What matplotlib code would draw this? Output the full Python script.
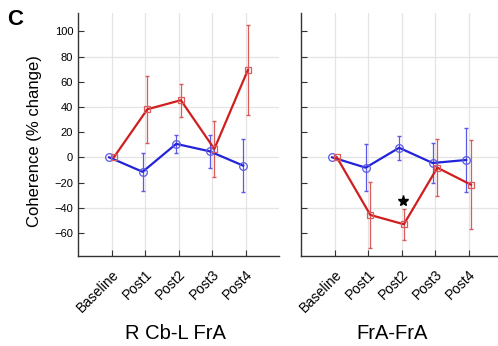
import numpy as np
import matplotlib
matplotlib.use("Agg")
import matplotlib.pyplot as plt
from matplotlib.transforms import ScaledTranslation

plt.rcParams['font.family'] = ['Liberation Sans', 'DejaVu Sans']

# data
sessions = ["Baseline", "Post1", "Post2", "Post3", "Post4"]
panels = ["R Cb-L FrA", "FrA-FrA"]

# R Cb-L FrA
blue_l = [0, -11.5, 10.7, 4.8, -6.6]
blue_l_lo = [0, -26.6, 3.2, -8.2, -27.2]
blue_l_hi = [0, 3.8, 18.1, 17.6, 14.2]
red_l = [0, 38.2, 45.4, 6.7, 69.4]
red_l_lo = [0, 11.5, 32.3, -16.0, 33.9]
red_l_hi = [0, 64.6, 58.4, 29.1, 105.4]

# FrA-FrA
blue_r = [0, -8.2, 7.6, -4.5, -2.1]
blue_r_lo = [0, -26.5, -1.9, -20.6, -27.3]
blue_r_hi = [0, 10.6, 16.7, 11.4, 23.0]
red_r = [0, -45.8, -53.2, -8.2, -21.7]
red_r_lo = [0, -71.7, -66.0, -30.7, -57.1]
red_r_hi = [0, -19.4, -40.8, 14.3, 13.5]

star_pos = (2.04, -34.6)

yticks = np.arange(-60, 101, 20)
ygrid = [-40, 0, 40, 80]

W, H = 498, 346
fig = plt.figure(figsize=(W / 100, H / 100), dpi=100)
ax1 = fig.add_axes([78 / W, 90 / H, 201 / W, 243 / H])
ax2 = fig.add_axes([301 / W, 90 / H, 201 / W, 243 / H])

blue = "#2323d8"
blue_e = "#5a5ae6"
red = "#d01e1e"
red_e = "#dc5a5a"
x = np.arange(len(sessions))


def draw(ax, bm, blo, bhi, rm, rlo, rhi):
    for g in ygrid:
        ax.axhline(g, color="#e4e4e4", lw=0.9, zorder=0)
    for xi in x:
        ax.axvline(xi, color="#e4e4e4", lw=0.9, zorder=0)
    bm, blo, bhi = map(np.array, (bm, blo, bhi))
    rm, rlo, rhi = map(np.array, (rm, rlo, rhi))
    ax.errorbar(x[1:] - 0.07, bm[1:], yerr=[bm[1:] - blo[1:], bhi[1:] - bm[1:]],
                fmt="none", ecolor=blue_e, elinewidth=0.9, capsize=1.5, zorder=2)
    ax.errorbar(x[1:] + 0.07, rm[1:], yerr=[rm[1:] - rlo[1:], rhi[1:] - rm[1:]],
                fmt="none", ecolor=red_e, elinewidth=0.9, capsize=1.5, zorder=2)
    ax.plot(x - 0.07, bm, color=blue, lw=1.6, marker="o", ms=5.5,
            mfc="none", mec=blue_e, mew=0.9, zorder=3)
    ax.plot(x + 0.07, rm, color=red, lw=1.6, marker="s", ms=5,
            mfc="none", mec=red_e, mew=0.9, zorder=3)
    ax.set_xlim(-1, 5)
    ax.set_ylim(-78.4, 114.7)
    ax.set_yticks(yticks)
    ax.set_xticks(x)
    ax.set_xticklabels(sessions, rotation=45, ha="right", va="top",
                       rotation_mode="anchor", fontsize=10)
    off = ScaledTranslation(0.06, 0, fig.dpi_scale_trans)
    for lab in ax.get_xticklabels():
        lab.set_transform(lab.get_transform() + off)
    ax.tick_params(direction="in", length=4, width=0.8, color="#333333",
                   labelsize=8)
    ax.tick_params(axis="x", labelsize=10, pad=8)
    for s in ["top", "right"]:
        ax.spines[s].set_visible(False)
    for s in ["left", "bottom"]:
        ax.spines[s].set_color("#333333")
        ax.spines[s].set_linewidth(1.0)
    ax.set_facecolor("white")


draw(ax1, blue_l, blue_l_lo, blue_l_hi, red_l, red_l_lo, red_l_hi)
draw(ax2, blue_r, blue_r_lo, blue_r_hi, red_r, red_r_lo, red_r_hi)
ax2.set_yticklabels([])

ax2.plot(*star_pos, marker="*", color="black", ms=8, zorder=4)

fig.text(175 / W, 7 / H, panels[0], fontsize=14.5, ha="center", va="baseline")
fig.text(392.5 / W, 7 / H, panels[1], fontsize=14.5, ha="center", va="baseline")
fig.text(35 / W, 1 - 141.5 / H, "Coherence (% change)", rotation=90,
         fontsize=12, ha="center", va="center")
fig.text(7 / W, 1 - 25 / H, "C", fontsize=16, fontweight="bold",
         ha="left", va="baseline")

fig.savefig("out.png", dpi=100)
